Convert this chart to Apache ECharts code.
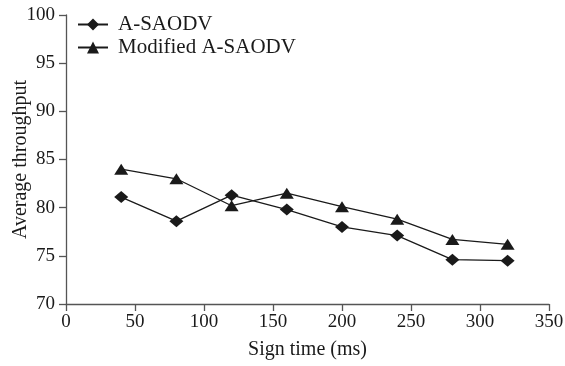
<!DOCTYPE html>
<html>
<head>
<meta charset="utf-8">
<script src="https://cdn.jsdelivr.net/npm/echarts@6/dist/echarts.min.js"></script>
<style>
  html, body { margin: 0; padding: 0; background: #fff; }
  #chart { width: 565px; height: 366px; }
</style>
</head>
<body>
<div id="chart"></div>
<script>
// sign time (ms)
var signTime = [40, 80, 120, 160, 200, 240, 280, 320];
var aSaodv = [81.1, 78.6, 81.3, 79.8, 78.0, 77.1, 74.6, 74.5];
var modifiedASaodv = [84.0, 83.0, 80.2, 81.5, 80.1, 78.8, 76.7, 76.2];

var font = 'Liberation Serif';
var ink = '#1a1a1a';
var axisColor = '#555';

var myChart = echarts.init(document.getElementById('chart'));

function pairs(ys) {
  return signTime.map(function (x, i) { return [x, ys[i]]; });
}

myChart.setOption({
  animation: false,
  textStyle: { fontFamily: font, color: ink },
  grid: { left: 66, right: 16, top: 15, bottom: 62, containLabel: false, outerBoundsMode: 'none' },
  legend: {
    orient: 'vertical',
    left: 72,
    top: 9,
    itemWidth: 30,
    itemHeight: 15,
    itemGap: 2,
    textStyle: { fontFamily: font, fontSize: 21, color: ink, padding: [0, 0, 0, 5] },
    data: ['A-SAODV', 'Modified A-SAODV']
  },
  xAxis: {
    type: 'value',
    min: 0,
    max: 350,
    interval: 50,
    name: 'Sign time (ms)',
    nameLocation: 'middle',
    nameGap: 36,
    nameMoveOverlap: false,
    nameTextStyle: { fontFamily: font, fontSize: 20, color: ink },
    axisLine: { lineStyle: { color: axisColor, width: 1.3 } },
    axisTick: { show: true, length: 7, lineStyle: { color: axisColor, width: 1.3 } },
    axisLabel: { fontFamily: font, fontSize: 19, color: ink, margin: 9 },
    splitLine: { show: false }
  },
  yAxis: {
    type: 'value',
    min: 70,
    max: 100,
    interval: 5,
    name: 'Average throughput',
    nameLocation: 'middle',
    nameGap: 35,
    nameMoveOverlap: false,
    nameTextStyle: { fontFamily: font, fontSize: 20, color: ink },
    axisLine: { show: true, lineStyle: { color: axisColor, width: 1.3 } },
    axisTick: { show: true, length: 7, lineStyle: { color: axisColor, width: 1.3 } },
    axisLabel: { fontFamily: font, fontSize: 19, color: ink, margin: 11 },
    splitLine: { show: false }
  },
  series: [{
    name: 'A-SAODV',
    type: 'line',
    data: pairs(aSaodv),
    symbol: 'diamond',
    symbolSize: [14, 12],
    showAllSymbol: true,
    lineStyle: { color: ink, width: 1.3 },
    itemStyle: { color: ink }
  }, {
    name: 'Modified A-SAODV',
    type: 'line',
    data: pairs(modifiedASaodv),
    symbol: 'triangle',
    symbolSize: [14, 11],
    showAllSymbol: true,
    lineStyle: { color: ink, width: 1.3 },
    itemStyle: { color: ink }
  }]
});
</script>
</body>
</html>
